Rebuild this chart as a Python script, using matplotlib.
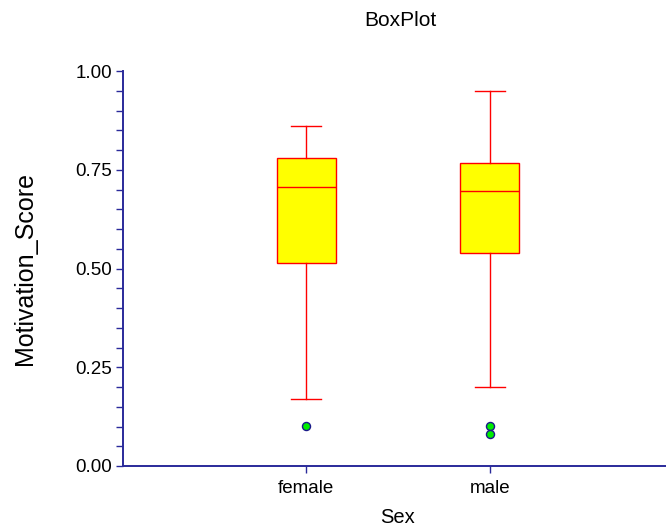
import matplotlib
matplotlib.use("Agg")
import matplotlib.pyplot as plt
from matplotlib.ticker import MultipleLocator

plt.rcParams['font.family'] = ['Liberation Sans', 'DejaVu Sans']

categories = ["female", "male"]
whislo = [0.169, 0.199]
q1 = [0.513, 0.540]
med = [0.707, 0.696]
q3 = [0.779, 0.768]
whishi = [0.861, 0.950]
outliers = [[0.101], [0.101, 0.082]]

stats = []
for i, c in enumerate(categories):
    stats.append(dict(label=c, whislo=whislo[i], q1=q1[i], med=med[i],
                      q3=q3[i], whishi=whishi[i], fliers=outliers[i]))

fig = plt.figure(figsize=(6.66, 5.28), dpi=100)
ax = fig.add_axes([123/666, 62/528, 550/666, 395/528])

red = "#FF0000"
navy = "#2A2A9A"
ax.bxp(stats, positions=[1, 2], widths=0.32, capwidths=0.164,
       patch_artist=True, showfliers=True,
       boxprops=dict(facecolor="#FFFF00", edgecolor=red, linewidth=1.0),
       medianprops=dict(color=red, linewidth=1.0),
       whiskerprops=dict(color=red, linewidth=1.0),
       capprops=dict(color=red, linewidth=1.0),
       flierprops=dict(marker='o', markerfacecolor="#00EE00",
                       markeredgecolor="#1A1A8A", markersize=5.8,
                       markeredgewidth=1.0, linestyle='none'))

ax.set_xlim(0, 3)
ax.set_ylim(0, 1)
ax.set_xticks([1, 2])
ax.set_xticklabels(categories)
ax.yaxis.set_major_locator(MultipleLocator(0.25))
ax.yaxis.set_minor_locator(MultipleLocator(0.05))
ax.yaxis.set_major_formatter(matplotlib.ticker.FormatStrFormatter('%.2f'))

for s in ['top', 'right']:
    ax.spines[s].set_visible(False)
for s in ['left', 'bottom']:
    ax.spines[s].set_color(navy)
    ax.spines[s].set_linewidth(1.4)

ax.tick_params(axis='y', which='both', direction='out', length=5,
               width=1.0, color=navy, labelsize=13.5, pad=3)
ax.tick_params(axis='x', which='major', direction='out', length=5,
               width=1.0, color=navy, labelsize=13.5, pad=5)

ax.set_xlabel("Sex", fontsize=14.5)
ax.xaxis.set_label_coords(0.5, (466 - 508) / 395)
ax.set_ylabel("Motivation_Score", fontsize=18)
ax.yaxis.set_label_coords((37 - 123) / 550, 0.5)

fig.text(400/666, 1 - 20/528, "BoxPlot", ha='center', va='center', fontsize=15)

fig.savefig("out.png", dpi=100)
